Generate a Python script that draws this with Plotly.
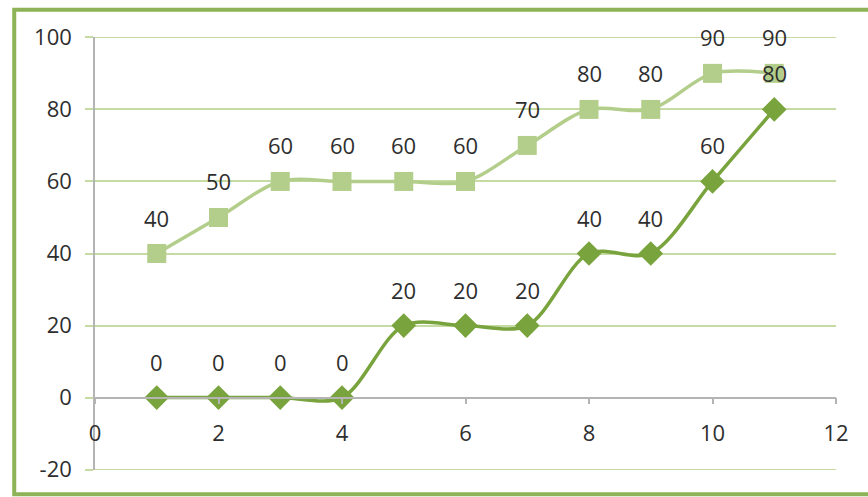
import plotly.graph_objects as go

x_vals = [1, 2, 3, 4, 5, 6, 7, 8, 9, 10, 11]
upper_series = [40, 50, 60, 60, 60, 60, 70, 80, 80, 90, 90]
lower_series = [0, 0, 0, 0, 20, 20, 20, 40, 40, 60, 80]
y_ticks = [-20, 0, 20, 40, 60, 80, 100]
y_tick_text = ["-20", "0", "20", "40", "60", "80", "100"]
x_ticks = [0, 2, 4, 6, 8, 10, 12]

LIGHT = "#b3ce8b"
DARK = "#79a33d"
GRID = "#c6dba3"
AXIS = "#b4b4b4"
TEXT = "#2e2e2e"
FONT = "Open Sans"
FSIZE = 22

fig = go.Figure()

fig.add_trace(go.Scatter(
    x=x_vals, y=upper_series, mode="lines+markers",
    line=dict(color=LIGHT, width=3.5, shape="spline", smoothing=0.9),
    marker=dict(symbol="square", size=19, color=LIGHT),
    showlegend=False, cliponaxis=False,
))
fig.add_trace(go.Scatter(
    x=x_vals, y=lower_series, mode="lines+markers",
    line=dict(color=DARK, width=3.5, shape="spline", smoothing=0.9),
    marker=dict(symbol="diamond", size=19, color=DARK),
    showlegend=False, cliponaxis=False,
))

# value labels above each point
for series in (upper_series, lower_series):
    for xv, yv in zip(x_vals, series):
        fig.add_annotation(
            x=xv, y=yv, text=str(yv), showarrow=False,
            yshift=36, xanchor="center", yanchor="middle",
            font=dict(family=FONT, size=FSIZE, color=TEXT),
        )

# gridlines on the range limits, which plotly skips at the plot edges
for yv in (y_ticks[0], y_ticks[-1]):
    fig.add_shape(
        type="line", xref="x", yref="y", x0=x_ticks[0], x1=x_ticks[-1],
        y0=yv, y1=yv, line=dict(color=GRID, width=1.5), layer="below",
    )

# outer frame around the chart
fig.add_shape(
    type="rect", xref="paper", yref="paper",
    x0=-0.109, x1=1.06, y0=-0.056, y1=1.063,
    line=dict(color="#8db356", width=4), layer="below",
)

fig.update_layout(
    width=868, height=497,
    margin=dict(l=95, r=32, t=37, b=27),
    plot_bgcolor="white", paper_bgcolor="white",
    font=dict(family=FONT, size=FSIZE, color=TEXT),
    xaxis=dict(
        range=[0, 12], tickvals=x_ticks, showgrid=False, zeroline=False,
        showline=True, linecolor=AXIS, linewidth=1.5,
        anchor="free", position=(0 - (-20.1)) / 120.2,
        ticks="outside", ticklen=6, tickcolor=AXIS, tickwidth=1.5,
        ticklabelstandoff=10,
        tickfont=dict(family=FONT, size=FSIZE, color=TEXT),
    ),
    yaxis=dict(
        range=[-20.1, 100.1], tickvals=y_ticks, ticktext=y_tick_text,
        showgrid=True, gridcolor=GRID, gridwidth=1.5, zeroline=False,
        showline=True, linecolor=AXIS, linewidth=1.5,
        ticks="outside", ticklen=8, tickcolor=GRID, tickwidth=1.5,
        ticklabelstandoff=9,
        tickfont=dict(family=FONT, size=FSIZE, color=TEXT),
    ),
)

fig.write_html("out.html")
